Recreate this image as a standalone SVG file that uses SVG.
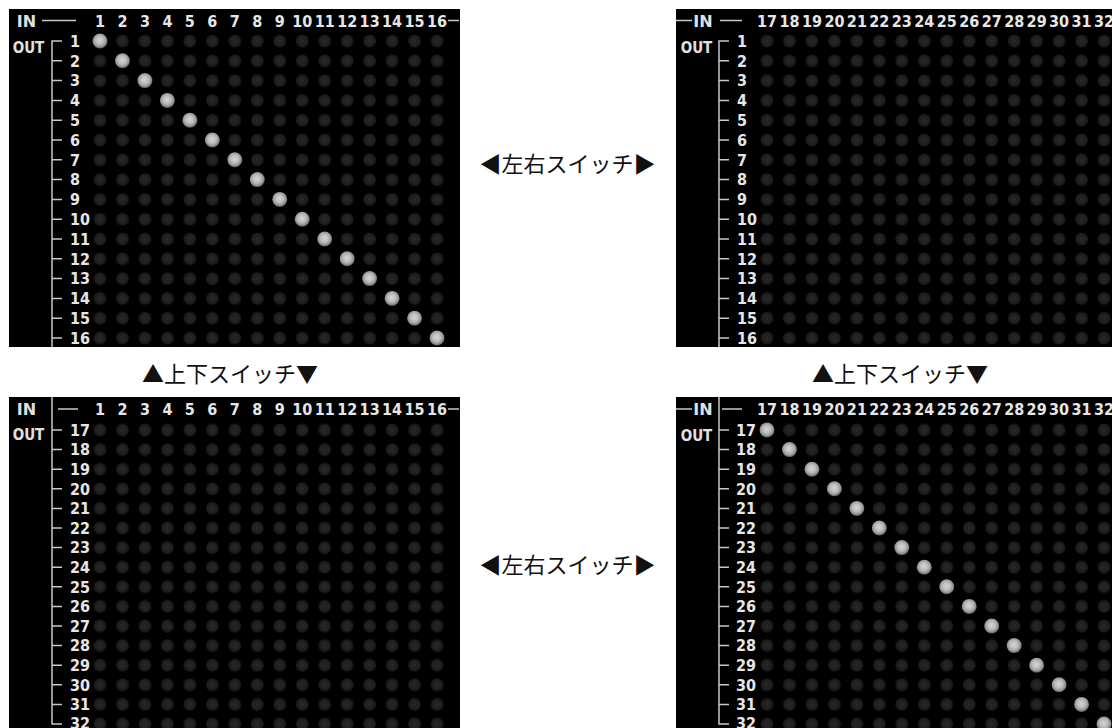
<svg xmlns="http://www.w3.org/2000/svg" width="1112" height="728" viewBox="0 0 1112 728">
<style>
.panel{fill:#000}
.num{font-family:"DejaVu Sans","Liberation Sans",sans-serif;font-stretch:condensed;font-weight:bold;font-size:16px;fill:#e6e6e6}
.hdr{text-anchor:middle}
.lbl{font-family:"DejaVu Sans","Liberation Sans",sans-serif;font-weight:bold;font-size:16px;fill:#e0e0e0;text-anchor:middle}
.out{font-stretch:condensed;font-size:15px}
.ln{stroke:#c8c8c8;stroke-width:1.5;fill:none}
.sw{font-family:"Noto Sans CJK JP","Noto Sans",sans-serif;font-size:22px;fill:#111;text-anchor:middle}
</style>
<defs>
<radialGradient id="gOff" cx="50%" cy="50%" r="50%">
<stop offset="0" stop-color="#282828"/>
<stop offset="0.7" stop-color="#1f1f1f"/>
<stop offset="1" stop-color="#141414"/>
</radialGradient>
<radialGradient id="gOn" cx="48%" cy="45%" r="55%">
<stop offset="0" stop-color="#d6d6d6"/>
<stop offset="0.5" stop-color="#bababa"/>
<stop offset="0.8" stop-color="#929292"/>
<stop offset="1" stop-color="#555"/>
</radialGradient>
<pattern id="pTL" patternUnits="userSpaceOnUse" x="88.765" y="31.1" width="22.47" height="19.8">
<circle cx="11.235" cy="9.9" r="6.5" fill="url(#gOff)"/>
</pattern>
<pattern id="pTR" patternUnits="userSpaceOnUse" x="755.765" y="31.1" width="22.47" height="19.8">
<circle cx="11.235" cy="9.9" r="6.5" fill="url(#gOff)"/>
</pattern>
<pattern id="pBL" patternUnits="userSpaceOnUse" x="88.765" y="420.2" width="22.47" height="19.6">
<circle cx="11.235" cy="9.8" r="6.5" fill="url(#gOff)"/>
</pattern>
<pattern id="pBR" patternUnits="userSpaceOnUse" x="755.765" y="420.2" width="22.47" height="19.6">
<circle cx="11.235" cy="9.8" r="6.5" fill="url(#gOff)"/>
</pattern>
<circle id="on" r="7.5" fill="url(#gOn)"/>
</defs>
<rect width="1112" height="728" fill="#fff"/>

<g id="panel-top-left">
<rect class="panel" x="9" y="9" width="451" height="338"/>
<rect x="88.765" y="31.1" width="359.52" height="316" fill="url(#pTL)"/>
<text class="lbl" x="26.5" y="26.5">IN</text>
<text class="lbl out" x="28.5" y="53.3">OUT</text>
<g class="num hdr">
<text x="100" y="26.7">1</text><text x="122.47" y="26.7">2</text><text x="144.94" y="26.7">3</text><text x="167.41" y="26.7">4</text><text x="189.88" y="26.7">5</text><text x="212.35" y="26.7">6</text><text x="234.82" y="26.7">7</text><text x="257.29" y="26.7">8</text><text x="279.76" y="26.7">9</text><text x="302.23" y="26.7">10</text><text x="324.7" y="26.7">11</text><text x="347.17" y="26.7">12</text><text x="369.64" y="26.7">13</text><text x="392.11" y="26.7">14</text><text x="414.58" y="26.7">15</text><text x="437.05" y="26.7">16</text>
</g>
<g class="num">
<text x="70" y="46.7">1</text><text x="70" y="66.5">2</text><text x="70" y="86.3">3</text><text x="70" y="106.1">4</text><text x="70" y="125.9">5</text><text x="70" y="145.7">6</text><text x="70" y="165.5">7</text><text x="70" y="185.3">8</text><text x="70" y="205.1">9</text><text x="70" y="224.9">10</text><text x="70" y="244.7">11</text><text x="70" y="264.5">12</text><text x="70" y="284.3">13</text><text x="70" y="304.1">14</text><text x="70" y="323.9">15</text><text x="70" y="343.7">16</text>
</g>
<g>
<use href="#on" x="100" y="41"/><use href="#on" x="122.47" y="60.8"/><use href="#on" x="144.94" y="80.6"/><use href="#on" x="167.41" y="100.4"/><use href="#on" x="189.88" y="120.2"/><use href="#on" x="212.35" y="140"/><use href="#on" x="234.82" y="159.8"/><use href="#on" x="257.29" y="179.6"/><use href="#on" x="279.76" y="199.4"/><use href="#on" x="302.23" y="219.2"/><use href="#on" x="324.7" y="239"/><use href="#on" x="347.17" y="258.8"/><use href="#on" x="369.64" y="278.6"/><use href="#on" x="392.11" y="298.4"/><use href="#on" x="414.58" y="318.2"/><use href="#on" x="437.05" y="338"/>
</g>
</g>

<g id="panel-top-right">
<rect class="panel" x="676" y="9" width="436" height="338"/>
<rect x="755.765" y="31.1" width="359.52" height="316" fill="url(#pTR)"/>
<text class="lbl" x="703" y="26.5">IN</text>
<text class="lbl out" x="696.5" y="53.3">OUT</text>
<g class="num hdr">
<text x="767" y="26.7">17</text><text x="789.47" y="26.7">18</text><text x="811.94" y="26.7">19</text><text x="834.41" y="26.7">20</text><text x="856.88" y="26.7">21</text><text x="879.35" y="26.7">22</text><text x="901.82" y="26.7">23</text><text x="924.29" y="26.7">24</text><text x="946.76" y="26.7">25</text><text x="969.23" y="26.7">26</text><text x="991.7" y="26.7">27</text><text x="1014.17" y="26.7">28</text><text x="1036.64" y="26.7">29</text><text x="1059.11" y="26.7">30</text><text x="1081.58" y="26.7">31</text><text x="1104.05" y="26.7">32</text>
</g>
<g class="num">
<text x="737" y="46.7">1</text><text x="737" y="66.5">2</text><text x="737" y="86.3">3</text><text x="737" y="106.1">4</text><text x="737" y="125.9">5</text><text x="737" y="145.7">6</text><text x="737" y="165.5">7</text><text x="737" y="185.3">8</text><text x="737" y="205.1">9</text><text x="737" y="224.9">10</text><text x="737" y="244.7">11</text><text x="737" y="264.5">12</text><text x="737" y="284.3">13</text><text x="737" y="304.1">14</text><text x="737" y="323.9">15</text><text x="737" y="343.7">16</text>
</g>
</g>

<g id="panel-bottom-left">
<rect class="panel" x="9" y="397" width="451" height="331"/>
<rect x="88.765" y="420.2" width="359.52" height="308" fill="url(#pBL)"/>
<text class="lbl" x="26.5" y="415">IN</text>
<text class="lbl out" x="28.5" y="440.3">OUT</text>
<g class="num hdr">
<text x="100" y="415">1</text><text x="122.47" y="415">2</text><text x="144.94" y="415">3</text><text x="167.41" y="415">4</text><text x="189.88" y="415">5</text><text x="212.35" y="415">6</text><text x="234.82" y="415">7</text><text x="257.29" y="415">8</text><text x="279.76" y="415">9</text><text x="302.23" y="415">10</text><text x="324.7" y="415">11</text><text x="347.17" y="415">12</text><text x="369.64" y="415">13</text><text x="392.11" y="415">14</text><text x="414.58" y="415">15</text><text x="437.05" y="415">16</text>
</g>
<g class="num">
<text x="70" y="435.7">17</text><text x="70" y="455.3">18</text><text x="70" y="474.9">19</text><text x="70" y="494.5">20</text><text x="70" y="514.1">21</text><text x="70" y="533.7">22</text><text x="70" y="553.3">23</text><text x="70" y="572.9">24</text><text x="70" y="592.5">25</text><text x="70" y="612.1">26</text><text x="70" y="631.7">27</text><text x="70" y="651.3">28</text><text x="70" y="670.9">29</text><text x="70" y="690.5">30</text><text x="70" y="710.1">31</text><text x="70" y="728.5">32</text>
</g>
</g>

<g id="panel-bottom-right">
<rect class="panel" x="676" y="397" width="436" height="331"/>
<rect x="755.765" y="420.2" width="359.52" height="308" fill="url(#pBR)"/>
<text class="lbl" x="703" y="415">IN</text>
<text class="lbl out" x="696.5" y="441.3">OUT</text>
<g class="num hdr">
<text x="767" y="415">17</text><text x="789.47" y="415">18</text><text x="811.94" y="415">19</text><text x="834.41" y="415">20</text><text x="856.88" y="415">21</text><text x="879.35" y="415">22</text><text x="901.82" y="415">23</text><text x="924.29" y="415">24</text><text x="946.76" y="415">25</text><text x="969.23" y="415">26</text><text x="991.7" y="415">27</text><text x="1014.17" y="415">28</text><text x="1036.64" y="415">29</text><text x="1059.11" y="415">30</text><text x="1081.58" y="415">31</text><text x="1104.05" y="415">32</text>
</g>
<g class="num">
<text x="736" y="435.7">17</text><text x="736" y="455.3">18</text><text x="736" y="474.9">19</text><text x="736" y="494.5">20</text><text x="736" y="514.1">21</text><text x="736" y="533.7">22</text><text x="736" y="553.3">23</text><text x="736" y="572.9">24</text><text x="736" y="592.5">25</text><text x="736" y="612.1">26</text><text x="736" y="631.7">27</text><text x="736" y="651.3">28</text><text x="736" y="670.9">29</text><text x="736" y="690.5">30</text><text x="736" y="710.1">31</text><text x="736" y="728.5">32</text>
</g>
<g>
<use href="#on" x="767" y="430"/><use href="#on" x="789.47" y="449.6"/><use href="#on" x="811.94" y="469.2"/><use href="#on" x="834.41" y="488.8"/><use href="#on" x="856.88" y="508.4"/><use href="#on" x="879.35" y="528"/><use href="#on" x="901.82" y="547.6"/><use href="#on" x="924.29" y="567.2"/><use href="#on" x="946.76" y="586.8"/><use href="#on" x="969.23" y="606.4"/><use href="#on" x="991.7" y="626"/><use href="#on" x="1014.17" y="645.6"/><use href="#on" x="1036.64" y="665.2"/><use href="#on" x="1059.11" y="684.8"/><use href="#on" x="1081.58" y="704.4"/><use href="#on" x="1104.05" y="724"/>
</g>
</g>

<g id="connectors" class="ln">
<path d="M42 20.5H76M448 20.5H459"/>
<path d="M62 41H52V347M52 60.8H62M52 80.6H62M52 100.4H62M52 120.2H62M52 140H62M52 159.8H62M52 179.6H62M52 199.4H62M52 219.2H62M52 239H62M52 258.8H62M52 278.6H62M52 298.4H62M52 318.2H62M52 338H62"/>
<path d="M676 20.5H692M720 20.5H742"/>
<path d="M729 41H719V347M719 60.8H729M719 80.6H729M719 100.4H729M719 120.2H729M719 140H729M719 159.8H729M719 179.6H729M719 199.4H729M719 219.2H729M719 239H729M719 258.8H729M719 278.6H729M719 298.4H729M719 318.2H729M719 338H729"/>
<path d="M58 409H78M448 409H459"/>
<path d="M52 397V724H62M52 430H62M52 449.6H62M52 469.2H62M52 488.8H62M52 508.4H62M52 528H62M52 547.6H62M52 567.2H62M52 586.8H62M52 606.4H62M52 626H62M52 645.6H62M52 665.2H62M52 684.8H62M52 704.4H62"/>
<path d="M676 409H692M722 409H742"/>
<path d="M719 397V724H729M719 430H729M719 449.6H729M719 469.2H729M719 488.8H729M719 508.4H729M719 528H729M719 547.6H729M719 567.2H729M719 586.8H729M719 606.4H729M719 626H729M719 645.6H729M719 665.2H729M719 684.8H729M719 704.4H729"/>
</g>

<g id="switch-labels">
<text class="sw" x="567.5" y="172">◀左右スイッチ▶</text>
<text class="sw" x="567.5" y="573">◀左右スイッチ▶</text>
<text class="sw" x="230" y="382">▲上下スイッチ▼</text>
<text class="sw" x="900" y="382">▲上下スイッチ▼</text>
</g>
</svg>
